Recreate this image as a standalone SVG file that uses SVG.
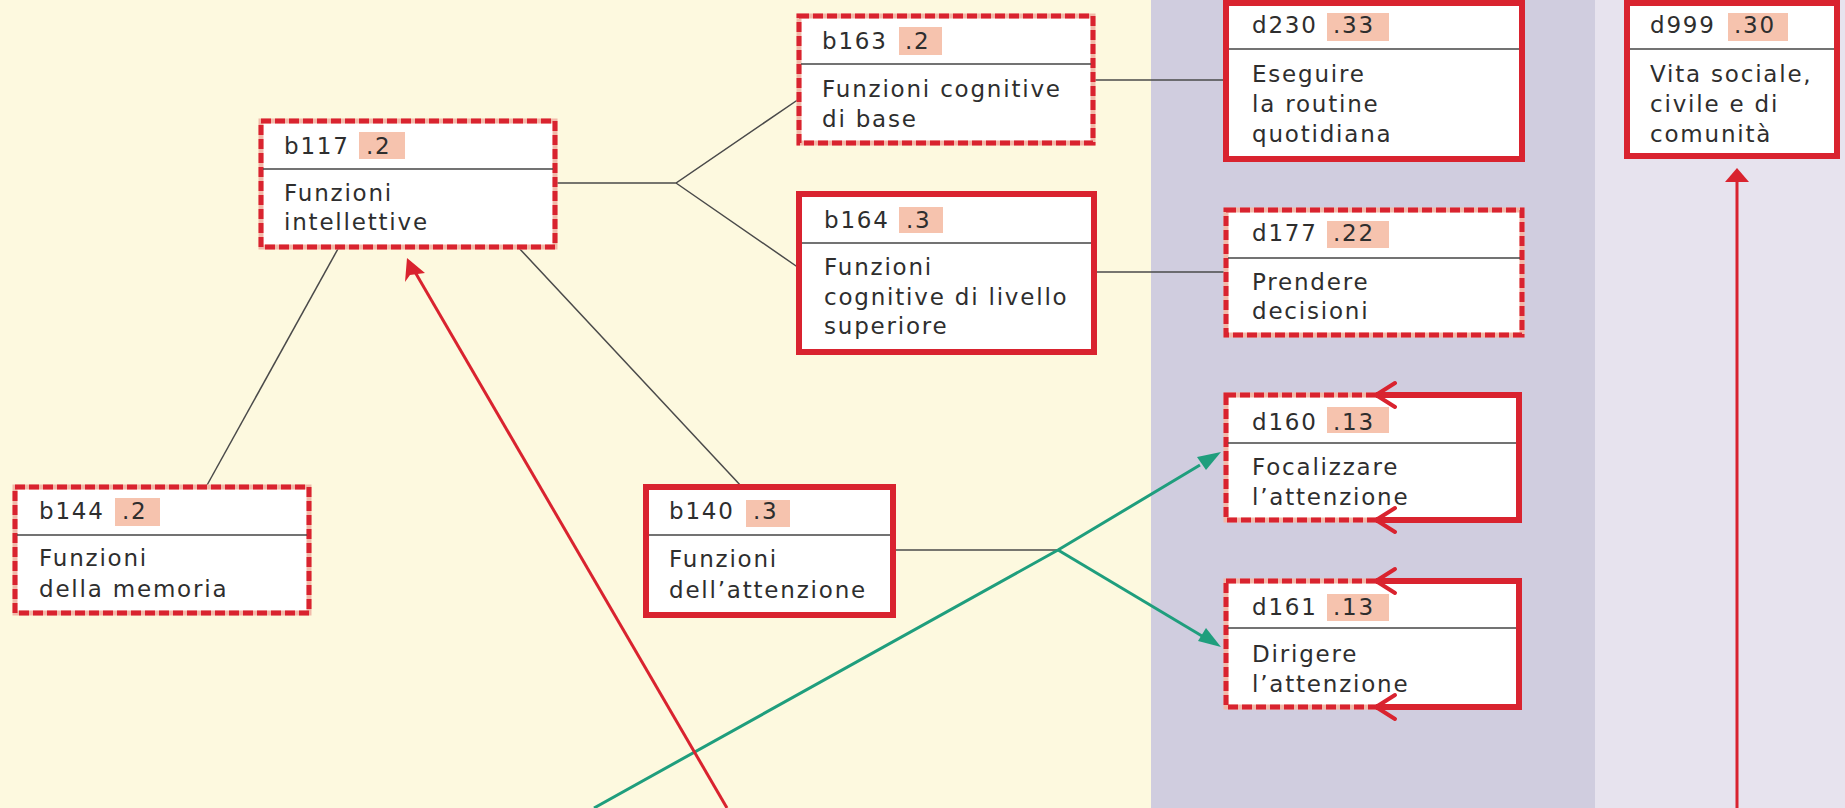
<svg xmlns="http://www.w3.org/2000/svg" width="1845" height="808" viewBox="0 0 1845 808">
<style>
.box{fill:#ffffff}
.dash-base{fill:none;stroke:#f2b9a9;stroke-width:5}
.dash{fill:none;stroke:#d9232f;stroke-width:5;stroke-dasharray:10 4}
.solid{fill:none;stroke:#d9232f;stroke-width:6}
.solidpart{fill:none;stroke:#d9232f;stroke-width:6}
.chev{fill:none;stroke:#d9232f;stroke-width:4;stroke-linecap:round;stroke-linejoin:round}
.div{stroke:#444;stroke-width:1.5}
.hl{fill:#f6c3ae}
.t{font-family:"DejaVu Sans","Open Sans",sans-serif;font-size:23px;letter-spacing:1.8px;fill:#2e2e2e}
.conn{fill:none;stroke:#4a4a4a;stroke-width:1.5}
.green{fill:none;stroke:#1f9e7d;stroke-width:3}
.red{fill:none;stroke:#d9232f;stroke-width:3}
</style>
<rect x="0" y="0" width="1151" height="808" fill="#fdf9df"/>
<rect x="1151" y="0" width="444" height="808" fill="#d0cddf"/>
<rect x="1595" y="0" width="250" height="808" fill="#e7e3ee"/>

<g id="connectors">
<path class="conn" d="M555,183 H676 L799,99 M676,183 L799,268"/>
<path class="conn" d="M518,247 L742,487"/>
<path class="conn" d="M339,247 L206,487"/>
<path class="conn" d="M1093,80 H1226"/>
<path class="conn" d="M1094,272 H1226"/>
<path class="conn" d="M893,550 H1058"/>
<path class="green" d="M594,808 L1058,550 L1200,465"/>
<path d="M1221,452 L1197,457 L1206,470 Z" fill="#1f9e7d"/>
<path class="green" d="M1058,550 L1202,636"/>
<path d="M1221,647 L1198,641 L1206,628 Z" fill="#1f9e7d"/>
<path class="red" d="M727,808 L415,272"/>
<path d="M407,258 L425,273 L410,275 L405,282 Z" fill="#d9232f"/>
<path class="red" d="M1737,808 V180"/>
<path d="M1737,168 L1749,182 L1725,182 Z" fill="#d9232f"/>
</g>

<g id="b117">
<rect class="box" x="261" y="121" width="294" height="126"/>
<rect class="dash-base" x="261" y="121" width="294" height="126"/>
<rect class="dash" x="261" y="121" width="294" height="126"/>
<line class="div" x1="263" y1="169" x2="553" y2="169"/>
<rect class="hl" x="359" y="132" width="46" height="27"/>
<text class="t" x="284" y="154">b117</text>
<text class="t" x="366" y="154">.2</text>
<text class="t" x="284" y="201">Funzioni</text>
<text class="t" x="284" y="230">intellettive</text>
</g>

<g id="b163">
<rect class="box" x="799" y="16" width="294" height="127"/>
<rect class="dash-base" x="799" y="16" width="294" height="127"/>
<rect class="dash" x="799" y="16" width="294" height="127"/>
<line class="div" x1="801" y1="64" x2="1091" y2="64"/>
<rect class="hl" x="899" y="27" width="43" height="28"/>
<text class="t" x="822" y="49">b163</text>
<text class="t" x="905" y="49">.2</text>
<text class="t" x="822" y="97">Funzioni cognitive</text>
<text class="t" x="822" y="127">di base</text>
</g>

<g id="b164">
<rect class="box" x="799" y="194" width="295" height="158"/>
<rect class="solid" x="799" y="194" width="295" height="158"/>
<line class="div" x1="802" y1="243" x2="1091" y2="243"/>
<rect class="hl" x="899" y="207" width="44" height="26"/>
<text class="t" x="824" y="228">b164</text>
<text class="t" x="906" y="228">.3</text>
<text class="t" x="824" y="275">Funzioni</text>
<text class="t" x="824" y="305">cognitive di livello</text>
<text class="t" x="824" y="334">superiore</text>
</g>

<g id="b144">
<rect class="box" x="15" y="487" width="294" height="126"/>
<rect class="dash-base" x="15" y="487" width="294" height="126"/>
<rect class="dash" x="15" y="487" width="294" height="126"/>
<line class="div" x1="17" y1="535" x2="307" y2="535"/>
<rect class="hl" x="115" y="498" width="45" height="28"/>
<text class="t" x="39" y="519">b144</text>
<text class="t" x="122" y="519">.2</text>
<text class="t" x="39" y="566">Funzioni</text>
<text class="t" x="39" y="597">della memoria</text>
</g>

<g id="b140">
<rect class="box" x="646" y="487" width="247" height="128"/>
<rect class="solid" x="646" y="487" width="247" height="128"/>
<line class="div" x1="649" y1="535" x2="890" y2="535"/>
<rect class="hl" x="746" y="500" width="44" height="27"/>
<text class="t" x="669" y="519">b140</text>
<text class="t" x="753" y="519">.3</text>
<text class="t" x="669" y="567">Funzioni</text>
<text class="t" x="669" y="598">dell’attenzione</text>
</g>

<g id="d230">
<rect class="box" x="1226" y="3" width="296" height="156"/>
<rect class="solid" x="1226" y="3" width="296" height="156"/>
<line class="div" x1="1229" y1="49" x2="1519" y2="49"/>
<rect class="hl" x="1327" y="13" width="62" height="28"/>
<text class="t" x="1252" y="33">d230</text>
<text class="t" x="1333" y="33">.33</text>
<text class="t" x="1252" y="82">Eseguire</text>
<text class="t" x="1252" y="112">la routine</text>
<text class="t" x="1252" y="142">quotidiana</text>
</g>

<g id="d999">
<rect class="box" x="1627" y="3" width="210" height="153"/>
<rect class="solid" x="1627" y="3" width="210" height="153"/>
<line class="div" x1="1630" y1="49" x2="1834" y2="49"/>
<rect class="hl" x="1728" y="13" width="60" height="28"/>
<text class="t" x="1650" y="33">d999</text>
<text class="t" x="1734" y="33">.30</text>
<text class="t" x="1650" y="82">Vita sociale,</text>
<text class="t" x="1650" y="112">civile e di</text>
<text class="t" x="1650" y="142">comunità</text>
</g>

<g id="d177">
<rect class="box" x="1226" y="210" width="296" height="125"/>
<rect class="dash-base" x="1226" y="210" width="296" height="125"/>
<rect class="dash" x="1226" y="210" width="296" height="125"/>
<line class="div" x1="1228" y1="258" x2="1520" y2="258"/>
<rect class="hl" x="1327" y="221" width="62" height="27"/>
<text class="t" x="1252" y="241">d177</text>
<text class="t" x="1333" y="241">.22</text>
<text class="t" x="1252" y="290">Prendere</text>
<text class="t" x="1252" y="319">decisioni</text>
</g>

<g id="d160">
<rect class="box" x="1226" y="395" width="293" height="125"/>
<rect class="dash-base" x="1226" y="395" width="293" height="125"/>
<rect class="dash" x="1226" y="395" width="293" height="125"/>
<path class="solidpart" d="M1376,395 H1519 V520 H1376"/>
<path class="chev" d="M1395,383 L1376,395 L1395,407 M1395,508 L1376,520 L1395,532"/>
<line class="div" x1="1228" y1="443" x2="1516" y2="443"/>
<rect class="hl" x="1327" y="407" width="62" height="26"/>
<text class="t" x="1252" y="430">d160</text>
<text class="t" x="1333" y="430">.13</text>
<text class="t" x="1252" y="475">Focalizzare</text>
<text class="t" x="1252" y="505">l’attenzione</text>
</g>

<g id="d161">
<rect class="box" x="1226" y="581" width="293" height="126"/>
<rect class="dash-base" x="1226" y="581" width="293" height="126"/>
<rect class="dash" x="1226" y="581" width="293" height="126"/>
<path class="solidpart" d="M1376,581 H1519 V707 H1376"/>
<path class="chev" d="M1395,569 L1376,581 L1395,593 M1395,695 L1376,707 L1395,719"/>
<line class="div" x1="1228" y1="628" x2="1516" y2="628"/>
<rect class="hl" x="1327" y="594" width="62" height="27"/>
<text class="t" x="1252" y="615">d161</text>
<text class="t" x="1333" y="615">.13</text>
<text class="t" x="1252" y="662">Dirigere</text>
<text class="t" x="1252" y="692">l’attenzione</text>
</g>
</svg>
